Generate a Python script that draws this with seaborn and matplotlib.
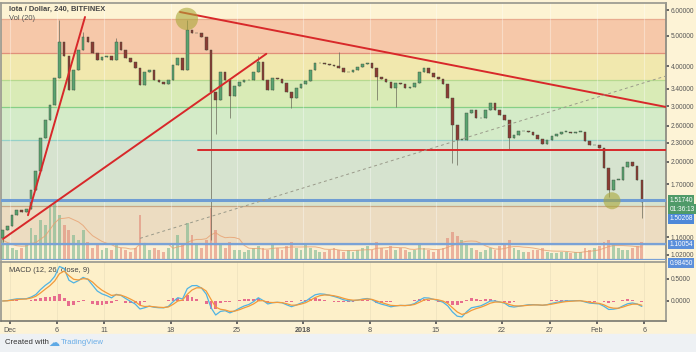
import numpy as np
import pandas as pd
import matplotlib
matplotlib.use("Agg")
import matplotlib.pyplot as plt
import seaborn as sns
from matplotlib.patches import Rectangle
from matplotlib.ticker import NullLocator, FixedLocator

sns.set_theme(style="white")
plt.rcParams["font.family"] = ["Liberation Sans", "DejaVu Sans"]

# ---------------- data (12h candles, day 0 = Dec 1 2017) ----------------
closes = [1.22, 1.26, 1.36, 1.41, 1.39, 1.42, 1.63, 1.87, 2.38, 2.71,
          3.02, 3.68, 4.77, 4.31, 3.37, 3.90, 4.50, 4.95, 4.77, 4.41,
          4.19, 4.28, 4.31, 4.19, 4.77, 4.50, 4.25, 4.13, 3.95, 3.50,
          3.84, 3.90, 3.62, 3.57, 3.52, 3.62, 4.04, 4.25, 3.90, 5.21,
          5.10, 5.10, 4.95, 4.50, 3.32, 3.14, 3.84, 3.62, 3.23, 3.47,
          3.57, 3.62, 3.62, 3.84, 4.13, 3.62, 3.37, 3.68, 3.65, 3.55,
          3.32, 3.18, 3.42, 3.52, 3.60, 3.90, 4.10, 4.10, 4.07, 4.04,
          4.01, 3.95, 3.84, 3.84, 3.90, 3.98, 4.07, 4.10, 3.95, 3.70,
          3.65, 3.57, 3.42, 3.55, 3.52, 3.42, 3.45, 3.55, 3.84, 3.95,
          3.81, 3.70, 3.65, 3.52, 3.18, 2.62, 2.35, 2.35, 2.85, 2.92,
          2.75, 2.75, 2.92, 3.07, 2.92, 2.81, 2.71, 2.38, 2.43, 2.50,
          2.50, 2.49, 2.43, 2.36, 2.28, 2.35, 2.42, 2.45, 2.49, 2.49,
          2.47, 2.49, 2.49, 2.33, 2.26, 2.26, 2.21, 1.92, 1.63, 1.76,
          1.76, 1.93, 2.00, 1.94, 1.76, 1.50]
first_open = 1.15
volumes = [20, 15, 12, 10, 12, 15, 32, 25, 40, 35,
           55, 57, 45, 35, 30, 25, 20, 30, 18, 12,
           15, 10, 12, 10, 15, 12, 10, 8, 12, 45,
           15, 10, 12, 10, 8, 12, 15, 25, 15, 37,
           25, 15, 12, 20, 52, 30, 15, 12, 18, 10,
           10, 8, 10, 12, 14, 12, 10, 15, 12, 10,
           14, 18, 12, 10, 16, 12, 10, 8, 8, 10,
           12, 10, 8, 10, 8, 10, 12, 14, 10, 18,
           12, 10, 14, 10, 12, 10, 8, 10, 15, 12,
           10, 8, 10, 12, 22, 28, 24, 20, 15, 12,
           10, 8, 10, 12, 10, 14, 16, 20, 12, 10,
           8, 8, 10, 10, 12, 8, 7, 7, 8, 8,
           7, 8, 8, 12, 10, 12, 14, 18, 20, 15,
           12, 10, 10, 12, 14, 18]
wick_high_idx = [12, 17, 24, 39, 54, 71]
wick_high_val = [5.59, 5.13, 4.90, 5.60, 4.30, 4.45]
wick_low_idx = [0, 44, 45, 48, 61, 79, 83, 95, 96, 107, 128, 135]
wick_low_val = [1.12, 1.14, 2.45, 2.75, 2.95, 3.14, 2.98, 1.99, 1.96, 2.18, 1.55, 1.33]
start_day = -0.75
step_day = 0.5

tick_days = [0, 5, 10, 17, 24, 31, 38, 45, 52, 57, 62, 67]
tick_labels = ["Dec", "6", "11", "18", "25", "2018", "8", "15", "22", "27", "Feb", "6"]
price_ticks = [6.0, 5.0, 4.0, 3.4, 3.0, 2.6, 2.3, 2.0, 1.7, 1.16, 1.02]
macd_ticks = [0.5, 0.0]

band_edges = [6.5, 5.64, 4.41, 3.62, 2.98, 2.35, 1.455, 1.10, 0.95]
band_colors = ["#fdf3d3", "#f6c8a9", "#f1e8ae", "#d9ebb6", "#d4ebc8", "#d6e3cf", "#ecdcc1", "#fbf0d4"]
edge_line_colors = ["#e9ab8f", "#e0907a", "#b6d98f", "#86cf86", "#95d1c8", "#c9a684", "#6c9bd2"]

# trendlines: (day, price)
steep_line = [(1.93, 1.36), (7.95, 5.72)]
rising_line = [(-0.71, 1.145), (27.1, 4.38)]
falling_line = [(17.98, 5.93), (69.3, 2.98)]
support_line = [(19.9, 2.18), (69.3, 2.18)]
dashed_line = [(13.76, 1.15), (69.3, 3.73)]
circles_day = [18.7, 63.6]
circles_price = [5.64, 1.51]
circles_size = [260, 150]
hlines_price = [1.5174, 1.10054]

# ---------------- derived ----------------
n = len(closes)
t = start_day + step_day * np.arange(n)
c = np.array(closes)
o = np.array([first_open] + closes[:-1])
hi = np.maximum(o, c)
lo = np.minimum(o, c)
for i, v in zip(wick_high_idx, wick_high_val):
    hi[i] = max(hi[i], v)
for i, v in zip(wick_low_idx, wick_low_val):
    lo[i] = min(lo[i], v)
up = c >= o

df = pd.DataFrame({"t": t, "close": c, "vol": volumes})
df["vol_ma"] = df["vol"].rolling(7, min_periods=1).mean()
ema_fast = df["close"].ewm(span=12 / 3, adjust=False).mean()
ema_slow = df["close"].ewm(span=26 / 3, adjust=False).mean()
df["macd"] = ema_fast - ema_slow
df["signal"] = df["macd"].ewm(span=9 / 3, adjust=False).mean()
df["hist"] = df["macd"] - df["signal"]

# ---------------- figure ----------------
W, H = 696, 352
fig = plt.figure(figsize=(W / 100, H / 100), dpi=100, facecolor="#fdf3d6")

def rect(x0, y0, x1, y1):
    return [x0 / W, 1 - y1 / H, (x1 - x0) / W, (y1 - y0) / H]

xlim = (-0.92, 69.3)
ylim = (0.983, 6.33)
macd_ylim = (-0.455, 0.886)
main_rect = rect(1, 3, 666, 260)

ax_bg = fig.add_axes(main_rect, zorder=0)
ax_vol = fig.add_axes(main_rect, zorder=1)
ax = fig.add_axes(main_rect, zorder=2)
ax_m = fig.add_axes(rect(1, 262, 666, 321), zorder=3, facecolor="#fdf0c9")

for a in (ax_bg, ax):
    a.set_yscale("log")

# bands
for k in range(len(band_colors)):
    ax_bg.axhspan(band_edges[k + 1], band_edges[k], color=band_colors[k], lw=0)
for k, col in enumerate(edge_line_colors):
    ax_bg.axhline(band_edges[k + 1], color=col, lw=0.9)
for d in tick_days:
    ax_bg.axvline(d, color="white", alpha=0.35, lw=0.8)
    ax_m.axvline(d, color="#efe3bf", lw=0.6)

# volume
vcol = np.where(up, "#6fb38a", "#e0806e")
ax_vol.bar(df["t"], df["vol"], width=0.3, color=vcol, alpha=0.55, lw=0)
sns.lineplot(x=df["t"], y=df["vol_ma"], ax=ax_vol, color="#e8a070", lw=0.7, alpha=0.8)

# candles
ax.vlines(t, lo, hi, color="#6a6a5a", lw=0.5, zorder=3)
body_col = np.where(up, "#5aa36f", "#8c3b33")
ax.bar(t, np.maximum(np.abs(c - o), 0.01), bottom=np.minimum(o, c), width=0.28,
       color=body_col, edgecolor="#3d4a3d", lw=0.3, zorder=4)

# horizontal blue lines
ax.axhline(hlines_price[0], color="#6f9dd3", lw=2.2, zorder=5)
ax.axhline(hlines_price[1], color="#7aa2d6", lw=1.6, zorder=5)
ax.axhline(0.985, color="#7aa2d6", lw=1.6, zorder=5)

# trendlines
for ln in (steep_line, rising_line, falling_line, support_line):
    xs, ys = zip(*ln)
    sns.lineplot(x=list(xs), y=list(ys), ax=ax, color="#d8282a", lw=1.4, zorder=6)
xs, ys = zip(*dashed_line)
ax.plot(xs, ys, color="#9a9a8a", lw=0.7, ls=(0, (3, 3)), zorder=6)
ax.scatter(circles_day, circles_price, s=circles_size, color="#aaa83a", alpha=0.6, lw=0, zorder=7)

# MACD panel
ax_m.bar(df["t"].values, df["hist"].values, width=0.3, color="#e0407a", alpha=0.75, lw=0, zorder=3)
sns.lineplot(x=df["t"], y=df["macd"], ax=ax_m, color="#4fb3e3", lw=0.9, zorder=4)
sns.lineplot(x=df["t"], y=df["signal"], ax=ax_m, color="#f29a3a", lw=0.9, zorder=4)

# limits (set after drawing)
for a in (ax_bg, ax_vol, ax, ax_m):
    a.set_xlim(*xlim)
    a.set_xlabel("")
    a.set_ylabel("")
ax_bg.set_ylim(*ylim)
ax.set_ylim(*ylim)
ax_vol.set_ylim(0, 257)
ax_vol.patch.set_visible(False)
ax.patch.set_visible(False)

TICKFS = 4.7

# price axis on the right
ax.yaxis.tick_right()
ax.yaxis.set_major_locator(FixedLocator(price_ticks))
ax.yaxis.set_minor_locator(NullLocator())
ax.set_yticklabels([f"{p:.5f}" for p in price_ticks])
ax.tick_params(axis="y", labelsize=TICKFS, colors="#555555", length=2, pad=1.5, right=True)
for a in (ax_bg, ax_vol):
    a.set_yticks([])
    a.yaxis.set_minor_locator(NullLocator())
for a in (ax_bg, ax_vol, ax):
    a.tick_params(axis="x", bottom=False, labelbottom=False)
    for s in a.spines.values():
        s.set_visible(False)
ax.spines["right"].set_visible(True)
ax.spines["right"].set_color("#8a8a80")
ax.spines["top"].set_visible(True)
ax.spines["top"].set_color("#9a9a90")
ax.spines["left"].set_visible(True)
ax.spines["left"].set_color("#9a9a90")

def box(a, text, price, dy_pt, fc):
    a.annotate(text, xy=(1, price), xycoords=("axes fraction", "data"),
               xytext=(2.5, dy_pt), textcoords="offset points", va="center", ha="left",
               fontsize=TICKFS, color="white", annotation_clip=False, zorder=10,
               bbox=dict(boxstyle="square,pad=0.2", fc=fc, ec="none"))

box(ax, "1.51740", 1.5174, 0, "#4f9a68")
box(ax, "01:36:13", 1.5174, -6.6, "#4f9a68")
box(ax, "1.50268", 1.5174, -13.4, "#4d88d8")
box(ax, "1.10054", 1.10054, 0, "#5b8fdb")
box(ax, "0.98450", 0.985, -2.5, "#5b8fdb")

ax.text(8 / 665, 1 - 6 / 257, "Iota / Dollar, 240, BITFINEX", transform=ax.transAxes,
        fontsize=5.4, weight="bold", color="#444444", va="center", ha="left", zorder=10)
ax.text(8 / 665, 1 - 16 / 257, "Vol (20)", transform=ax.transAxes,
        fontsize=5.4, color="#555555", va="center", ha="left", zorder=10)

ax_m.set_ylim(*macd_ylim)
ax_m.yaxis.tick_right()
ax_m.yaxis.set_major_locator(FixedLocator(macd_ticks))
ax_m.set_yticklabels([f"{v:.4f}" for v in macd_ticks])
ax_m.tick_params(axis="y", labelsize=TICKFS, colors="#555555", length=2, pad=1.5, right=True)
ax_m.xaxis.set_major_locator(FixedLocator(tick_days))
ax_m.set_xticklabels(tick_labels)
ax_m.tick_params(axis="x", labelsize=5.2, colors="#555555", length=2, pad=2, bottom=True)
for lbl in ax_m.get_xticklabels():
    if lbl.get_text() == "2018":
        lbl.set_fontweight("bold")
for s in ax_m.spines.values():
    s.set_color("#9a9a90")
ax_m.spines["bottom"].set_color("#777770")
ax_m.spines["bottom"].set_linewidth(1.2)
ax_m.text(8 / 665, 1 - 9 / 59, "MACD (12, 26, close, 9)", transform=ax_m.transAxes,
          fontsize=5.4, color="#444444", va="center", ha="left", zorder=2)
ax_m.set_ylim(*macd_ylim)

# footer
fig.patches.append(Rectangle((0, 0), 1, 18 / H, transform=fig.transFigure,
                             color="#eef1f4", zorder=0))
fig.text(5 / W, 9 / H, "Created with", fontsize=5.6, color="#333333", va="center")
fig.text(48 / W, 9.5 / H, "\u2601", fontsize=8, color="#5ea9e5", va="center",
         family="DejaVu Sans")
fig.text(61 / W, 9 / H, "TradingView", fontsize=5.6, color="#6aaee8", va="center")

fig.savefig("out.png", dpi=100, facecolor=fig.get_facecolor())
